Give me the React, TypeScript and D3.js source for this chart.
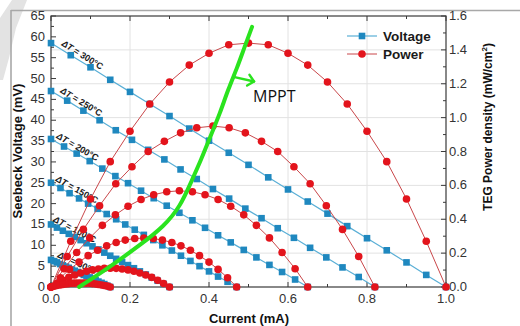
import React from 'react'
import * as d3 from 'd3'

const W = 520
const H = 326

// temperature differences, one voltage line + one power curve each
const deltaT = [300, 250, 200, 150, 100, 50]

const current300 = [0, 0.05, 0.1, 0.15, 0.2, 0.25, 0.3, 0.35, 0.4, 0.45, 0.5, 0.55, 0.6, 0.65, 0.7, 0.75, 0.8, 0.85, 0.9, 0.95, 1.0]
const voltage300 = [58.5, 55.6, 52.7, 49.7, 46.8, 43.9, 41.0, 38.0, 35.1, 32.2, 29.3, 26.3, 23.4, 20.5, 17.6, 14.6, 11.7, 8.8, 5.9, 2.9, 0]
const power300 = [0, 0.27, 0.52, 0.74, 0.92, 1.08, 1.21, 1.31, 1.38, 1.43, 1.44, 1.43, 1.38, 1.31, 1.21, 1.08, 0.92, 0.74, 0.52, 0.27, 0]

const current250 = [0, 0.041, 0.082, 0.123, 0.164, 0.205, 0.246, 0.287, 0.328, 0.369, 0.41, 0.451, 0.492, 0.533, 0.574, 0.615, 0.656, 0.697, 0.738, 0.779, 0.82]
const voltage250 = [47, 44.7, 42.3, 40.0, 37.6, 35.3, 32.9, 30.6, 28.2, 25.9, 23.5, 21.2, 18.8, 16.5, 14.1, 11.8, 9.4, 7.1, 4.7, 2.4, 0]
const power250 = [0, 0.18, 0.34, 0.48, 0.61, 0.71, 0.8, 0.86, 0.91, 0.94, 0.95, 0.94, 0.91, 0.86, 0.8, 0.71, 0.61, 0.48, 0.34, 0.18, 0]

const current200 = [0, 0.033, 0.065, 0.098, 0.13, 0.163, 0.195, 0.228, 0.26, 0.293, 0.325, 0.358, 0.39, 0.423, 0.455, 0.488, 0.52, 0.553, 0.585, 0.618, 0.65]
const voltage200 = [35.5, 33.7, 32.0, 30.2, 28.4, 26.6, 24.9, 23.1, 21.3, 19.5, 17.8, 16.0, 14.2, 12.4, 10.7, 8.9, 7.1, 5.3, 3.6, 1.8, 0]
const power200 = [0, 0.108, 0.204, 0.29, 0.364, 0.426, 0.477, 0.517, 0.545, 0.562, 0.568, 0.562, 0.545, 0.517, 0.477, 0.426, 0.364, 0.29, 0.204, 0.108, 0]

const current150 = [0, 0.024, 0.047, 0.071, 0.094, 0.118, 0.141, 0.165, 0.188, 0.212, 0.235, 0.259, 0.282, 0.306, 0.329, 0.353, 0.376, 0.4, 0.423, 0.447, 0.47]
const voltage150 = [25, 23.75, 22.5, 21.25, 20, 18.75, 17.5, 16.25, 15, 13.75, 12.5, 11.25, 10, 8.75, 7.5, 6.25, 5, 3.75, 2.5, 1.25, 0]
const power150 = [0, 0.055, 0.104, 0.147, 0.185, 0.217, 0.243, 0.263, 0.277, 0.286, 0.289, 0.286, 0.277, 0.263, 0.243, 0.217, 0.185, 0.147, 0.104, 0.055, 0]

const current100 = [0, 0.015, 0.03, 0.045, 0.06, 0.075, 0.09, 0.105, 0.12, 0.135, 0.15, 0.165, 0.18, 0.195, 0.21, 0.225, 0.24, 0.255, 0.27, 0.285, 0.3]
const voltage100 = [15, 14.25, 13.5, 12.75, 12, 11.25, 10.5, 9.75, 9, 8.25, 7.5, 6.75, 6, 5.25, 4.5, 3.75, 3, 2.25, 1.5, 0.75, 0]
const power100 = [0, 0.021, 0.04, 0.057, 0.071, 0.083, 0.093, 0.101, 0.106, 0.11, 0.111, 0.11, 0.106, 0.101, 0.093, 0.083, 0.071, 0.057, 0.04, 0.021, 0]

const current50 = [0, 0.008, 0.015, 0.023, 0.03, 0.038, 0.045, 0.053, 0.06, 0.068, 0.075, 0.083, 0.09, 0.098, 0.105, 0.113, 0.12, 0.128, 0.135, 0.143, 0.15]
const voltage50 = [6.5, 6.2, 5.9, 5.5, 5.2, 4.9, 4.6, 4.2, 3.9, 3.6, 3.3, 2.9, 2.6, 2.3, 2.0, 1.6, 1.3, 1.0, 0.7, 0.3, 0]
const power50 = [0, 0.005, 0.009, 0.012, 0.015, 0.018, 0.02, 0.022, 0.023, 0.024, 0.024, 0.024, 0.023, 0.022, 0.02, 0.018, 0.015, 0.012, 0.009, 0.005, 0]

const currents = [current300, current250, current200, current150, current100, current50]
const voltages = [voltage300, voltage250, voltage200, voltage150, voltage100, voltage50]
const powers = [power300, power250, power200, power150, power100, power50]

// where the "ΔT = ..." labels sit (current, voltage)
const labelCurrent = [0.025, 0.022, 0.012, 0.01, 0.004, 0.015]
const labelVoltage = [58.0, 46.7, 35.8, 25.5, 15.8, 7.2]

// hand drawn MPPT trace (current, voltage)
const mpptCurrent = [0.071, 0.149, 0.233, 0.284, 0.327, 0.357, 0.38, 0.405, 0.428, 0.448, 0.471, 0.489, 0.509]
const mpptVoltage = [0, 4.8, 10.6, 14.4, 19.2, 25.7, 30.5, 36.5, 41.7, 47.3, 52.5, 57.3, 62.4]
const arrowCurrent = [0.462, 0.514]
const arrowVoltage = [50.4, 49.3]

const leftTicks = [0, 5, 10, 15, 20, 25, 30, 35, 40, 45, 50, 55, 60, 65]
const rightTicks = [0, 0.2, 0.4, 0.6, 0.8, 1.0, 1.2, 1.4, 1.6]
const bottomTicks = [0, 0.2, 0.4, 0.6, 0.8, 1.0]

const blueLine = '#5aafd6'
const blueMark = '#1f88bf'
const redLine = '#c9474a'
const redMark = '#e3141c'
const green = '#2ae31e'
const axisColor = '#3a3a3a'
const font = '"Liberation Sans", Arial, sans-serif'

const App = () => {
  const x = d3.scaleLinear().domain([0, 1]).range([51, 446])
  const yL = d3.scaleLinear().domain([0, 65]).range([287, 16])
  const yR = d3.scaleLinear().domain([0, 1.6]).range([287, 16])

  const line = d3.line<[number, number]>().x(d => d[0]).y(d => d[1])
  const mpptLine = d3.line<[number, number]>().x(d => d[0]).y(d => d[1]).curve(d3.curveBasis)

  const minorX = d3.range(0, 1.0001, 0.1)
  const minorL = d3.range(0, 65.01, 2.5)
  const minorR = d3.range(0, 1.601, 0.1)

  const mpptPts: [number, number][] = mpptCurrent.map((c, i) => [x(c), yL(mpptVoltage[i])])
  const ax0 = x(arrowCurrent[0]), ay0 = yL(arrowVoltage[0])
  const ax1 = x(arrowCurrent[1]), ay1 = yL(arrowVoltage[1])
  const ang = Math.atan2(ay1 - ay0, ax1 - ax0)
  const head = 8
  const wing = 0.75
  const headPath = `M${ax1 - head * Math.cos(ang - wing)},${ay1 - head * Math.sin(ang - wing)} L${ax1},${ay1} L${ax1 - head * Math.cos(ang + wing)},${ay1 - head * Math.sin(ang + wing)}`

  return (
    <svg width={W} height={H} style={{ position: 'absolute', left: 0, top: 0, background: '#fff' }}>
      {/* watermark + outer frame */}
      <path d="M12,0 L27,0 L16,28 L9,58 L3,80 L0,80 L0,18 Z" fill="#e3e3e3" />
      <line x1={11} y1={10.5} x2={W} y2={10.5} stroke="#a8a8a8" strokeWidth={1.6} />
      <line x1={11} y1={10} x2={11} y2={H} stroke="#a8a8a8" strokeWidth={1.6} />

      {/* grid */}
      {bottomTicks.slice(1, -1).map(t => (
        <line key={'gx' + t} x1={x(t)} x2={x(t)} y1={16} y2={287} stroke="#e2e2e2" />
      ))}
      {rightTicks.slice(1, -1).map(t => (
        <line key={'gy' + t} x1={51} x2={446} y1={yR(t)} y2={yR(t)} stroke="#e2e2e2" />
      ))}

      {/* axes frame */}
      <rect x={51} y={16} width={395} height={271} fill="none" stroke={axisColor} strokeWidth={1.2} />
      {minorX.map((t, i) => (
        <g key={'tx' + i}>
          <line x1={x(t)} x2={x(t)} y1={287} y2={287 - (i % 2 === 0 ? 5 : 3)} stroke={axisColor} />
          <line x1={x(t)} x2={x(t)} y1={16} y2={16 + (i % 2 === 0 ? 5 : 3)} stroke={axisColor} />
        </g>
      ))}
      {minorL.map((t, i) => (
        <line key={'tl' + i} x1={51} x2={51 + (i % 2 === 0 ? 5 : 3)} y1={yL(t)} y2={yL(t)} stroke={axisColor} />
      ))}
      {minorR.map((t, i) => (
        <line key={'tr' + i} x1={446} x2={446 - (i % 2 === 0 ? 5 : 3)} y1={yR(t)} y2={yR(t)} stroke={axisColor} />
      ))}

      {/* tick labels */}
      <g fontFamily={font} fontSize={13} fill="#333">
        {leftTicks.map(t => (
          <text key={'ll' + t} x={45} y={yL(t) + 4} textAnchor="end">{t}</text>
        ))}
        {rightTicks.map(t => (
          <text key={'rl' + t} x={449} y={yR(t) + 4}>{t.toFixed(1)}</text>
        ))}
        {bottomTicks.map(t => (
          <text key={'bl' + t} x={x(t)} y={303} textAnchor="middle">{t.toFixed(1)}</text>
        ))}
      </g>

      {/* axis titles */}
      <g fontFamily={font} fontWeight="bold" fill="#111">
        <text x={249} y={323} fontSize={13} textAnchor="middle">Current (mA)</text>
        <text transform="translate(22,151) rotate(-90)" fontSize={13} textAnchor="middle">Seebeck Voltage (mV)</text>
        <text transform="translate(492,127) rotate(-90)" fontSize={12} textAnchor="middle">
          TEG Power density (mW/cm<tspan dy={-5} fontSize={8}>2</tspan><tspan dy={5}>)</tspan>
        </text>
      </g>

      {/* voltage lines */}
      {deltaT.map((dt, i) => {
        const pts: [number, number][] = currents[i].map((c, j) => [x(c), yL(voltages[i][j])])
        return (
          <g key={'v' + dt}>
            <path d={line(pts) || ''} fill="none" stroke={blueLine} strokeWidth={1.2} />
            {pts.map((p, j) => (
              <rect key={j} x={p[0] - 3.3} y={p[1] - 3.3} width={6.6} height={6.6} fill={blueMark} />
            ))}
          </g>
        )
      })}

      {/* ΔT labels, rotated along each voltage line */}
      {deltaT.map((dt, i) => {
        const v = voltages[i]
        const c = currents[i]
        const angle = (Math.atan2(yL(v[v.length - 1]) - yL(v[0]), x(c[c.length - 1]) - x(c[0])) * 180) / Math.PI
        const lx = x(labelCurrent[i])
        const ly = yL(labelVoltage[i])
        return (
          <text key={'lab' + dt} transform={`translate(${lx},${ly}) rotate(${angle})`} fontFamily={font}
            fontSize={9} fontWeight="bold" fill="#1a1a1a">
            <tspan fontStyle="italic">ΔT</tspan> = {dt}°C
          </text>
        )
      })}

      {/* power curves */}
      {deltaT.map((dt, i) => {
        const pts: [number, number][] = currents[i].map((c, j) => [x(c), yR(powers[i][j])])
        return (
          <g key={'p' + dt}>
            <path d={line(pts) || ''} fill="none" stroke={redLine} strokeWidth={1} />
            {pts.map((p, j) => (
              <circle key={j} cx={p[0]} cy={p[1]} r={3.8} fill={redMark} />
            ))}
          </g>
        )
      })}

      {/* MPPT annotation */}
      <path d={mpptLine(mpptPts) || ''} fill="none" stroke={green} strokeWidth={4} strokeLinecap="round" strokeLinejoin="round" />
      <line x1={ax0} y1={ay0} x2={ax1} y2={ay1} stroke={green} strokeWidth={2.5} strokeLinecap="round" />
      <path d={headPath} fill="none" stroke={green} strokeWidth={2.5} strokeLinecap="round" strokeLinejoin="round" />
      <text x={253} y={102} fontFamily='"Open Sans", sans-serif' fontSize={16} fill="#111">MPPT</text>

      {/* legend */}
      <g fontFamily={font} fontWeight="bold" fontSize={13.5} fill="#1a1a1a">
        <line x1={347} x2={377} y1={36} y2={36} stroke={blueLine} strokeWidth={1.2} />
        <rect x={362 - 3.3} y={36 - 3.3} width={6.6} height={6.6} fill={blueMark} />
        <text x={383} y={41}>Voltage</text>
        <line x1={347} x2={377} y1={54} y2={54} stroke={redLine} strokeWidth={1} />
        <circle cx={362} cy={54} r={3.8} fill={redMark} />
        <text x={383} y={59}>Power</text>
      </g>
    </svg>
  )
}

export default App
